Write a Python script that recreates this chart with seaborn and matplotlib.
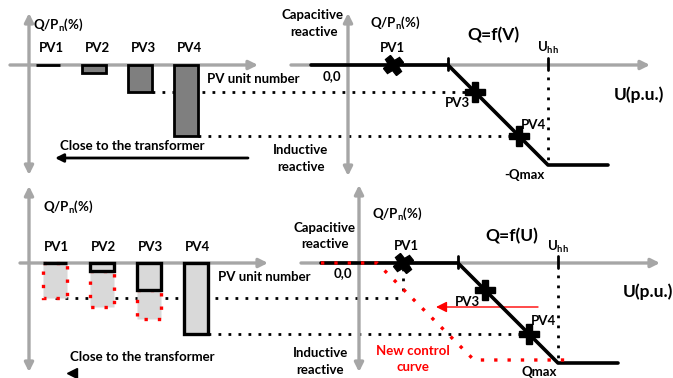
import numpy as np
import seaborn as sns
import matplotlib.pyplot as plt
from matplotlib.transforms import Affine2D
from matplotlib.markers import MarkerStyle

# PV units along the feeder, reactive power set-point Q/Pn (%)
pv_units = ["PV1", "PV2", "PV3", "PV4"]
q_fixed = [0, -8, -27, -71]     # with the plain Q=f(V) curve
q_new = [-35, -44, -56, -71]    # with the new control curve

# Q=f(U) characteristic: U (offset from the Q axis) and Q/Pn (%)
curve_u = [-37, 100, 200, 260]
curve_q = [0, 0, -100, -100]
new_curve_u = [-37, 19, 116, 209]
new_curve_q = [0, 0, -97, -97]
u_hh = 200

# operating points on the curve
op_labels = ["PV1", "PV3", "PV4"]
op_u = [45, 127, 171]
op_q = [0, -27, -71]

GRAY = "#a6a6a6"
BAR_DARK = "#7f7f7f"
BAR_LIGHT = "#d9d9d9"
RED = "#ff0000"
DOTS = (0, (1, 2.6))
RED_DOTS = (0, (1, 3))

sns.set_theme(style="white")
plt.rcParams["font.family"] = ["Lato", "DejaVu Sans"]
plt.rcParams["font.weight"] = "bold"
plt.rcParams["mathtext.fontset"] = "custom"
plt.rcParams["mathtext.rm"] = "Lato:bold"
plt.rcParams["mathtext.it"] = "Lato:bold"

fig = plt.figure(figsize=(6.73, 3.78), dpi=100)
ax = fig.add_axes([0, 0, 1, 1])
ax.set_xlim(0, 673)
ax.set_ylim(378, 0)
ax.axis("off")

# panel scales: (bars) index -> x, (curves) U -> x, Q -> y
TL = Affine2D().scale(46, -1).translate(48, 65)
TR = Affine2D().scale(1, -1).translate(348, 65)
BL = Affine2D().scale(47, -1).translate(55, 263)
BR = Affine2D().scale(1, -1).translate(358, 263)
BAR_W = 0.52


def pix(tr, x, y):
    return tr.transform((x, y))


def arrow(x0, y0, x1, y1, style="-|>", color=GRAY, lw=2.4, ms=13):
    ax.annotate("", xy=(x1, y1), xytext=(x0, y0),
                arrowprops=dict(arrowstyle=style, color=color, lw=lw,
                                mutation_scale=ms, shrinkA=0, shrinkB=0))


def label(x, y, s, size=9.5, color="black", ha="center"):
    ax.text(x, y, s, fontsize=size, color=color, ha=ha, va="center",
            fontweight="bold")


def hdots(tr_a, xa, tr_b, xb, q, tr_q):
    x0, x1 = pix(tr_a, xa, 0)[0], pix(tr_b, xb, 0)[0]
    y = pix(tr_q, 0, q)[1]
    ax.plot([x0, x1], [y, y], color="black", lw=2, linestyle=DOTS, zorder=1)


def bars(tr, bottom, top, **kw):
    x = np.arange(len(top))
    ax.bar(x, np.subtract(top, bottom), bottom=bottom, width=BAR_W,
           transform=tr + ax.transData, **kw)


def curve_panel(tr):
    sns.lineplot(x=curve_u, y=curve_q, ax=ax, color="black", lw=2.6,
                 sort=False, transform=tr + ax.transData, zorder=4)
    for u in [100, u_hh]:
        ax.plot([u, u], [7, -5], color="black", lw=2,
                transform=tr + ax.transData, zorder=4)
    ax.plot([u_hh, u_hh], [-12, -96], color="black", lw=2, linestyle=DOTS,
            transform=tr + ax.transData, zorder=1)
    for u, q in zip(op_u, op_q):
        mk = MarkerStyle("P", transform=Affine2D().rotate_deg(35)) if q == 0 else "P"
        ax.plot([u], [q], marker=mk, color="black", markersize=14, ls="none",
                transform=tr + ax.transData, zorder=6)


# ---------------- top row ----------------
arrow(29, 175, 29, 13, style="<|-|>")
arrow(10, 65, 258, 65)
arrow(348, 176, 348, 13, style="<|-|>")
arrow(291, 65, 650, 65)

bars(TL, [0] * 4, q_fixed, color=BAR_DARK, edgecolor="black", lw=2, zorder=3)
hdots(TL, 2 + BAR_W / 2, TR, op_u[1], q_fixed[2], TL)
hdots(TL, 3 + BAR_W / 2, TR, op_u[2], q_fixed[3], TL)
curve_panel(TR)
arrow(248, 158, 55, 158, color="black", lw=2, ms=12)

label(33, 25, "Q/P$\\mathrm{_n}$(%)", ha="left")
for i, name in enumerate(pv_units):
    label(pix(TL, i, 0)[0] + 3, 48, name)
label(253, 79, "PV unit number")
label(132, 146, "Close to the transformer")
label(300, 150, "Inductive")
label(301, 167, "reactive")
label(312, 15, "Capacitive")
label(314, 32, "reactive")
label(395, 23, "Q/P$\\mathrm{_n}$(%)")
label(493, 35, "Q=f(V)", size=12.5)
label(392, 48, "PV1")
label(548, 48, "U$\\mathrm{_{hh}}$")
label(332, 76, "0,0")
label(457, 103, "PV3")
label(533, 125, "PV4")
label(639, 95, "U(p.u.)", size=12.5)
label(524, 175, "-Qmax")

# ---------------- bottom row ----------------
arrow(29, 372, 29, 186, style="<|-|>")
arrow(20, 263, 268, 263)
arrow(359, 372, 359, 185, style="<|-|>")
arrow(301, 263, 660, 263)

# extra reactive power asked by the new curve (red dotted boxes)
bars(BL, q_fixed[:3], q_new[:3], color=BAR_LIGHT, edgecolor=RED, lw=2.4,
     linestyle=RED_DOTS, zorder=2)
bars(BL, [0] * 4, q_fixed, color=BAR_LIGHT, edgecolor="black", lw=2.4, zorder=3)

hdots(BL, 0, BR, op_u[0], q_new[0], BL)
ax.plot([op_u[0], op_u[0]], [-5, q_new[0]], color="black", lw=2, linestyle=DOTS,
        transform=BR + ax.transData, zorder=1)
hdots(BL, 3 + BAR_W / 2, BR, op_u[2], q_new[3], BL)
curve_panel(BR)
sns.lineplot(x=new_curve_u, y=new_curve_q, ax=ax, color=RED, lw=2.4,
             linestyle=RED_DOTS, sort=False, transform=BR + ax.transData, zorder=5)
arrow(*pix(BR, 180, q_new[1]), *pix(BR, 78, q_new[1]), color=RED, lw=1, ms=16)
ax.plot([72], [373], marker="<", color="black", markersize=7, ls="none")

label(43, 207, "Q/P$\\mathrm{_n}$(%)", ha="left")
for i, name in enumerate(pv_units):
    label(pix(BL, i, 0)[0] + 1, 247, name)
label(264, 277, "PV unit number")
label(142, 357, "Close to the transformer")
label(325, 228, "Capacitive")
label(325, 244, "reactive")
label(320, 353, "Inductive")
label(320, 370, "reactive")
label(397, 214, "Q/P$\\mathrm{_n}$(%)")
label(512, 236, "Q=f(U)", size=12.5)
label(406, 246, "PV1")
label(558, 247, "U$\\mathrm{_{hh}}$")
label(343, 273, "0,0")
label(467, 302, "PV3")
label(543, 321, "PV4")
label(648, 292, "U(p.u.)", size=12.5)
label(413, 351, "New control", color=RED)
label(413, 367, "curve", color=RED)
label(539, 372, "Qmax")

ax.set_xlim(0, 673)
ax.set_ylim(378, 0)
fig.savefig("out.png", dpi=100)
